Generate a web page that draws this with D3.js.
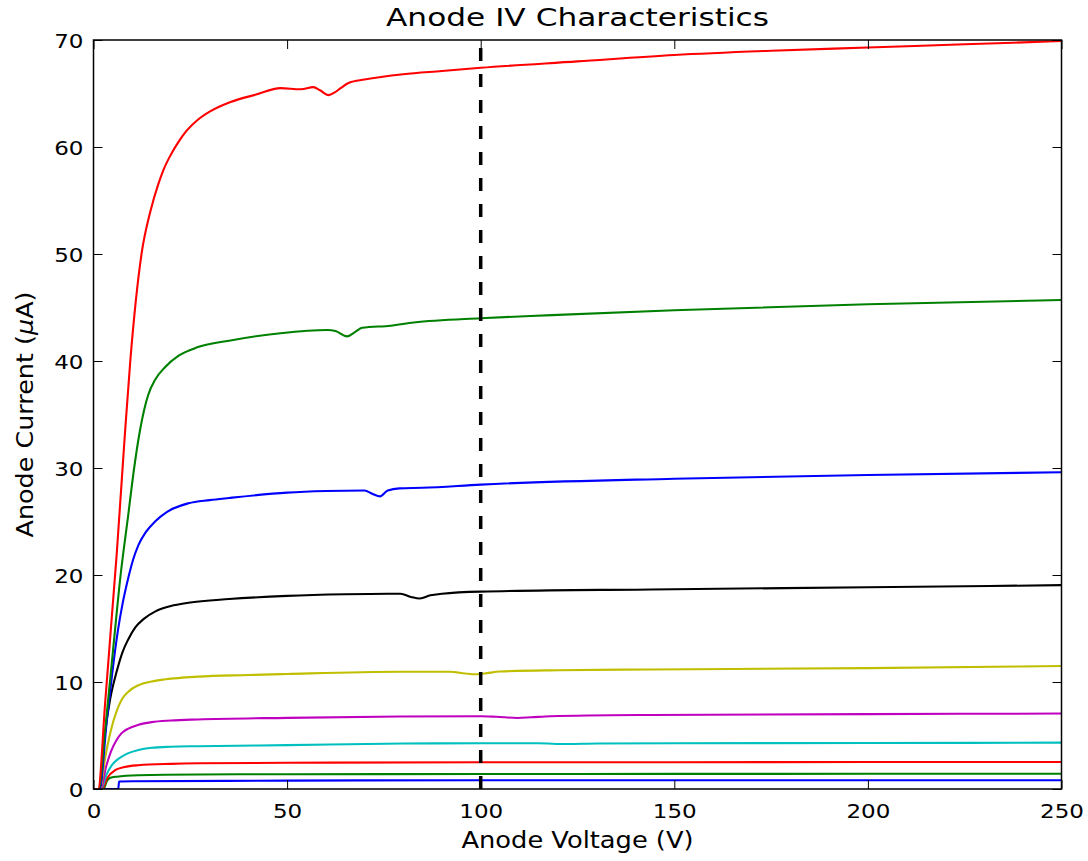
<!DOCTYPE html>
<html>
<head>
<meta charset="utf-8">
<script src="https://cdn.jsdelivr.net/npm/d3@7"></script>
<style>
  html, body { margin: 0; padding: 0; background: #fff; }
  svg { display: block; }
  text { font-family: "DejaVu Sans", sans-serif; fill: #000; }
</style>
</head>
<body>
<svg id="chart" width="1088" height="861"></svg>
<script>
// ---- data (Anode voltage V, anode current µA) ----
const title = "Anode IV Characteristics";
const xLabel = "Anode Voltage (V)";
const yLabelMain = "Anode Current (";
const yLabelMu = "μ";
const yLabelEnd = "A)";
const xTicks = [0, 50, 100, 150, 200, 250];
const yTicks = [0, 10, 20, 30, 40, 50, 60, 70];
const markerVoltage = 100;

// plotted in matplotlib classic colour-cycle order (b, g, r, c, m, y, k, b, g, r)
const curveBlueLow = [[0,0],[6.4,0],[6.6,0.7],[10,0.72],[50,0.78],[100,0.82],[150,0.82],[200,0.82],[250,0.82]];
const curveGreenLow = [[0,0],[2.6,0],[3.4,0.7],[4.2,1.02],[6,1.15],[11.6,1.28],[27,1.36],[50,1.38],[100,1.4],[150,1.41],[200,1.42],[250,1.43]];
const curveRedLow = [[0,0],[2.2,0],[3.5,1.0],[5.7,1.78],[8,2.05],[11.6,2.22],[20,2.35],[27,2.4],[50,2.45],[100,2.5],[150,2.5],[200,2.52],[250,2.53]];
const curveCyan = [[0,0],[2,0],[3.3,1.3],[4.7,2.2],[6,2.7],[7.2,3.0],[9,3.35],[11.6,3.65],[15,3.85],[20,3.95],[27,4.0],[50,4.1],[80,4.25],[100,4.27],[115,4.27],[122,4.2],[130,4.25],[150,4.28],[200,4.3],[250,4.33]];
const curveMagenta = [[0,0],[1.9,0],[3.2,2.0],[4.5,3.5],[6,4.6],[7.2,5.2],[9,5.65],[11.6,6.0],[15,6.25],[20,6.4],[27,6.5],[50,6.65],[79,6.77],[100,6.8],[104,6.75],[109.5,6.64],[113,6.7],[118,6.8],[144,6.92],[200,7.0],[250,7.05]];
const curveYellow = [[0,0],[1.7,0],[3,2.9],[4.5,5.5],[6,7.3],[7.2,8.3],[9,9.1],[11.6,9.7],[15,10.05],[18.6,10.25],[27,10.5],[40,10.65],[50,10.75],[79,10.96],[92,10.96],[96,10.8],[98.5,10.72],[101,10.8],[105,10.98],[120,11.1],[144,11.17],[200,11.3],[250,11.5]];
const curveBlack = [[0,0],[1.6,0],[2.9,5.0],[4.3,8.4],[6,11.0],[7.5,12.8],[9,14.0],[10.8,15.1],[13,15.9],[16,16.6],[20,17.1],[24.5,17.4],[35,17.75],[50,18.05],[65,18.2],[76,18.25],[79.3,18.25],[82,17.95],[84.3,17.8],[87,18.1],[90,18.25],[100,18.45],[144,18.65],[200,18.85],[250,19.05]];
const curveBlueHigh = [[0,0],[1.5,0],[3.5,6.6],[5,11.3],[6.3,14.8],[7.5,17.3],[8.9,19.6],[10.2,21.4],[11.6,22.8],[13.5,24.0],[15.9,25.0],[19,25.9],[24.5,26.7],[30,27.0],[35,27.2],[50,27.7],[60,27.85],[70,27.9],[72,27.6],[74,27.35],[76,27.9],[79,28.1],[85,28.15],[100,28.45],[150,29.0],[200,29.35],[250,29.6]];
const curveGreenHigh = [[0,0],[1.3,0],[3,5.5],[5,12.8],[7,20],[9,25.7],[10.5,30],[12,33.5],[13,35.3],[14.1,36.8],[16,38.3],[18.4,39.4],[22,40.5],[27,41.3],[35,41.9],[48.3,42.6],[60.4,42.9],[62.5,42.8],[65.5,42.3],[67.5,42.7],[69.4,43.1],[76.7,43.3],[82.7,43.6],[100,44.0],[112.9,44.2],[150,44.75],[200,45.3],[250,45.7]];
const curveRedHigh = [[0,0],[1.2,0],[3,8],[4.6,15.5],[6,22],[8,32.6],[9.5,40],[12.4,50],[14.7,54],[16.8,56.6],[18,57.8],[20,59.3],[22,60.5],[24,61.5],[26.8,62.5],[30,63.3],[35.4,64.2],[42,64.9],[48.3,65.5],[53.5,65.4],[56.8,65.6],[58.5,65.3],[60.7,64.85],[62.3,65.1],[63.8,65.5],[66,66.0],[70,66.3],[80,66.8],[90,67.1],[100,67.4],[125,68.0],[150,68.6],[175,69.0],[200,69.3],[225,69.6],[250,69.9]];

const curves = [curveBlueLow, curveGreenLow, curveRedLow, curveCyan, curveMagenta, curveYellow, curveBlack, curveBlueHigh, curveGreenHigh, curveRedHigh];
const colors = ["#0000ff", "#008000", "#ff0000", "#00bfbf", "#bf00bf", "#bfbf00", "#000000", "#0000ff", "#008000", "#ff0000"];

// ---- layout ----
const mLeft = 93.5, mRight = 1061.5, mTop = 40, mBottom = 789;
const svg = d3.select("#chart");
const x = d3.scaleLinear().domain([0, 250]).range([mLeft, mRight]);
const y = d3.scaleLinear().domain([0, 70]).range([mBottom, mTop]);

const plot = svg.append("g");
plot.append("clipPath").attr("id", "clip")
  .append("rect").attr("x", mLeft).attr("y", mTop).attr("width", mRight - mLeft).attr("height", mBottom - mTop);

const line = d3.line().x(d => x(d[0])).y(d => y(d[1])).curve(d3.curveMonotoneX);

const lines = plot.append("g").attr("clip-path", "url(#clip)");
curves.forEach((c, i) => {
  lines.append("path").datum(c)
    .attr("d", line)
    .attr("fill", "none")
    .attr("stroke", colors[i])
    .attr("stroke-width", 2.1)
    .attr("stroke-linejoin", "round");
});

// dashed marker line at 100 V, drawn from bottom to top
lines.append("path")
  .datum([[markerVoltage, 0], [markerVoltage, 70]])
  .attr("d", d3.line().x(d => x(d[0])).y(d => y(d[1])))
  .attr("stroke", "#000")
  .attr("stroke-width", 3.5)
  .attr("stroke-dasharray", "13,13")
  .attr("fill", "none");

// ---- axes (classic matplotlib: ticks inside on all four sides) ----
const tickLen = 9;
const labelStretch = 1.18;
const axB = svg.append("g").attr("transform", `translate(0,${mBottom})`)
  .call(d3.axisBottom(x).tickValues(xTicks).tickSizeInner(-tickLen).tickSizeOuter(0).tickPadding(15));
const axT = svg.append("g").attr("transform", `translate(0,${mTop})`)
  .call(d3.axisTop(x).tickValues(xTicks).tickSizeInner(-tickLen).tickSizeOuter(0).tickFormat(""));
const axL = svg.append("g").attr("transform", `translate(${mLeft},0)`)
  .call(d3.axisLeft(y).tickValues(yTicks).tickSizeInner(-tickLen).tickSizeOuter(0).tickPadding(10 / labelStretch));
const axR = svg.append("g").attr("transform", `translate(${mRight},0)`)
  .call(d3.axisRight(y).tickValues(yTicks).tickSizeInner(-tickLen).tickSizeOuter(0).tickFormat(""));

[axB, axT, axL, axR].forEach(a => {
  a.select(".domain").remove();
  a.selectAll(".tick line").attr("stroke", "#000").attr("stroke-width", 1);
  a.selectAll(".tick text").attr("font-family", "DejaVu Sans, sans-serif").attr("font-size", 19.5).attr("fill", "#000")
    .attr("transform", `scale(${labelStretch},1)`);
});
axB.selectAll(".tick text").attr("dy", "0.71em");
axL.selectAll(".tick text").attr("dy", "0.36em");

// frame
svg.append("rect")
  .attr("x", mLeft).attr("y", mTop)
  .attr("width", mRight - mLeft).attr("height", mBottom - mTop)
  .attr("fill", "none").attr("stroke", "#000").attr("stroke-width", 1.5);

// ---- labels ----
svg.append("text")
  .attr("x", (mLeft + mRight) / 2).attr("y", 26)
  .attr("text-anchor", "middle")
  .attr("font-size", 25)
  .attr("textLength", 383).attr("lengthAdjust", "spacingAndGlyphs")
  .text(title);

svg.append("text")
  .attr("x", (mLeft + mRight) / 2).attr("y", 848)
  .attr("text-anchor", "middle")
  .attr("font-size", 23)
  .attr("textLength", 232).attr("lengthAdjust", "spacingAndGlyphs")
  .text(xLabel);

const yl = svg.append("text")
  .attr("transform", `translate(33,${(mTop + mBottom) / 2}) rotate(-90)`)
  .attr("text-anchor", "middle")
  .attr("font-size", 23)
  .attr("textLength", 246).attr("lengthAdjust", "spacingAndGlyphs");
yl.append("tspan").text(yLabelMain);
yl.append("tspan").attr("font-style", "italic").text(yLabelMu);
yl.append("tspan").text(yLabelEnd);
</script>
</body>
</html>
